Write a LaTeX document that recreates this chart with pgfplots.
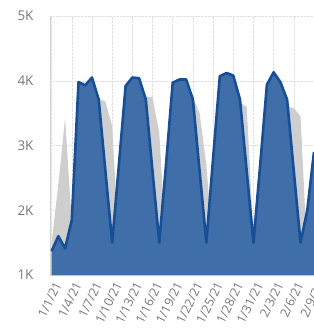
\documentclass[border=0pt]{standalone}
\usepackage{fontspec}
\setmainfont{Open Sans}
\usepackage{pgfplots}
\usepackage{pgfplotstable}
\pgfplotsset{compat=1.18}
\definecolor{bluefill}{RGB}{64,110,168}
\definecolor{blueline}{RGB}{22,78,152}
\definecolor{grayfill}{RGB}{206,206,206}
\definecolor{txt}{RGB}{120,120,120}
\pgfplotstableread{
day cur prev
0 1.37 1.50
1 1.60 2.40
2 1.41 3.42
3 1.85 1.80
4 3.98 2.20
5 3.93 3.60
6 4.05 3.70
7 3.71 3.72
8 2.60 3.68
9 1.50 3.30
10 2.70 1.40
11 3.92 2.50
12 4.05 3.60
13 4.04 3.72
14 3.71 3.76
15 2.60 3.74
16 1.50 3.20
17 2.70 1.40
18 3.97 2.50
19 4.02 3.60
20 4.02 3.72
21 3.71 3.74
22 2.60 3.50
23 1.50 2.70
24 2.80 1.40
25 4.07 2.60
26 4.12 3.60
27 4.08 3.68
28 3.71 3.66
29 2.60 3.60
30 1.50 1.60
31 2.70 2.40
32 3.94 3.50
33 4.13 3.62
34 3.98 3.62
35 3.71 3.60
36 2.60 3.58
37 1.50 3.45
38 2.00 1.30
39 2.90 2.40
}\datatable
\begin{document}
\begin{tikzpicture}
\begin{axis}[
  name=main,
  scale only axis, width=264bp, height=259bp,
  xmin=-0.24, xmax=39, ymin=1, ymax=5,
  axis x line*=bottom, axis y line*=left,
  axis line style={draw=gray!35, line width=0.8bp},
  xtick={0,3,...,39},
  xticklabels={1/1/21,1/4/21,1/7/21,1/10/21,1/13/21,1/16/21,1/19/21,1/22/21,1/25/21,1/28/21,1/31/21,2/3/21,2/6/21,2/9/21},
  ytick={1,2,3,4,5}, yticklabels={1K,2K,3K,4K,5K},
  major tick length=0,
  grid=major, grid style={densely dotted, gray!25, line width=0.5bp},
  tick label style={text=txt},
  y tick label style={font=\fontsize{13.5}{14}\selectfont, xshift=-13bp},
  x tick label style={font=\fontsize{12.5}{13}\selectfont, rotate=64, anchor=east, yshift=-9bp, xshift=-3bp, inner sep=1bp},
  clip=true,
]
\addplot[fill=grayfill, draw=none] table[x=day, y=prev] {\datatable} \closedcycle;
\addplot[fill=bluefill, draw=none] table[x=day, y=cur] {\datatable} \closedcycle;
\addplot[draw=blueline, line width=2.6bp, line join=round] table[x=day, y=cur] {\datatable};
\end{axis}
\pgfresetboundingbox
\useasboundingbox ([shift={(-50bp,-60bp)}]main.south west) rectangle ([shift={(0bp,16bp)}]main.north east);
\end{tikzpicture}
\end{document}
